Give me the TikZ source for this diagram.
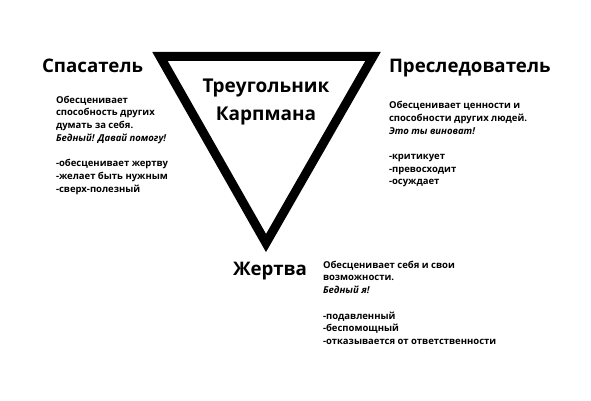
\documentclass[tikz,border=0pt]{standalone}
\usepackage{fontspec}
\setmainfont{Open Sans}
\usetikzlibrary{positioning}
\tikzset{
	every node/.style={inner sep=0pt,outer sep=0pt},
	role/.style={font=\bfseries\fontsize{18.7}{22}\selectfont,anchor=base west},
	notes/.style={font=\bfseries\fontsize{9.5}{12.7}\selectfont,align=left,anchor=north west},
}

\begin{document}
\begin{tikzpicture}[x=1pt,y=-1pt]
		\useasboundingbox (0,0) rectangle (591,401);
		
		% triangle corners..................
		\coordinate (tl) at (160,56.5);
		\coordinate (tr) at (373,56.5);
		\coordinate (bt) at (266,243);
		
		% triangle.............................
		\draw [line width=9pt] (tl) -- (tr) -- (bt) -- cycle;
		
		% title inside.........................
		\node [font=\bfseries\fontsize{19}{28}\selectfont,align=center] (title) at (266,102) {Треугольник\\Карпмана};
		
		% roles..............................
		\node [role] (rescuer) at (42,73) {Спасатель};
		\node [role] (persecutor) at (389,73) {Преследователь};
		\node [role] (victim) at (233,275) {Жертва};
		
		% notes..............................
		\node [notes] (rescuerNotes) at (56,96) {Обесценивает\\способность других\\думать за себя.\\\textit{Бедный! Давай помогу!}\\[12.7pt]-обесценивает жертву\\-желает быть нужным\\-сверх-полезный};
		\node [notes] (persecutorNotes) at (389,101.5) {Обесценивает ценности и\\способности других людей.\\\textit{Это ты виноват!}\\[12.7pt]-критикует\\-превосходит\\-осуждает};
		\node [notes] (victimNotes) at (323,261) {Обесценивает себя и свои\\возможности.\\\textit{Бедный я!}\\[12.7pt]-подавленный\\-беспомощный\\-отказывается от ответственности};
		
	\end{tikzpicture}
\end{document}
